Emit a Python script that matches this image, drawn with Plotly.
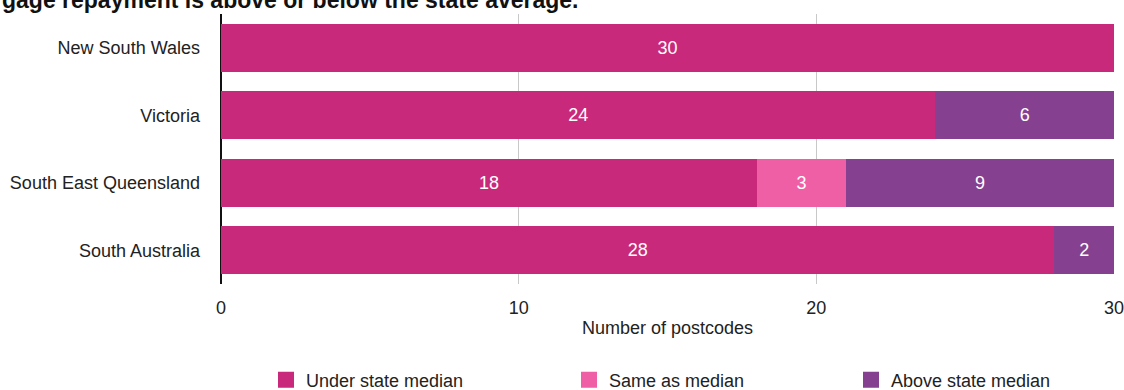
import plotly.graph_objects as go

# Postcodes per region, split by median mortgage repayment vs. state median
regions = ["New South Wales", "Victoria", "South East Queensland", "South Australia"]
under_median = [30, 24, 18, 28]
same_median = [0, 0, 3, 0]
above_median = [0, 6, 9, 2]

series_names = ["Under state median", "Same as median", "Above state median"]
series_values = [under_median, same_median, above_median]
series_colors = ["#C9297A", "#EF5FA5", "#85418F"]

x_ticks = [0, 10, 20, 30]

FONT = "Liberation Sans, Arial, Helvetica, sans-serif"
W, H = 1124, 390
ML, MR, MT, MB = 221, 10, 14, 106
PW, PH = W - ML - MR, H - MT - MB


def px_to_paper_x(px):
    return (px - ML) / PW


def px_to_paper_y(py):
    return (H - MB - py) / PH


fig = go.Figure()

for name, vals, color in zip(series_names, series_values, series_colors):
    fig.add_trace(go.Bar(
        y=regions,
        x=vals,
        name=name,
        orientation="h",
        marker=dict(color=color, line=dict(width=0)),
        text=[str(v) if v else "" for v in vals],
        textposition="inside",
        insidetextanchor="middle",
        textangle=0,
        textfont=dict(color="white", size=18, family=FONT),
        showlegend=False,
        hoverinfo="x+y+name",
    ))

# Legend entries with square swatches, each placed in its own legend box
legend_ids = ["legend", "legend2", "legend3"]
legend_left_px = [266, 569, 851]
for name, color, lid in zip(series_names, series_colors, legend_ids):
    fig.add_trace(go.Scatter(
        x=[None], y=[None],
        mode="markers",
        name=name,
        marker=dict(symbol="square", size=16, color=color, line=dict(width=0)),
        legend=lid,
        showlegend=True,
        hoverinfo="skip",
    ))

legend_common = dict(
    orientation="h",
    xref="container",
    yref="container",
    xanchor="left",
    yanchor="middle",
    y=(H - 380) / H,
    font=dict(size=18, family=FONT, color="#222222"),
    bgcolor="rgba(0,0,0,0)",
    borderwidth=0,
    itemsizing="trace",
)

fig.update_layout(
    width=W,
    height=H,
    margin=dict(l=ML, r=MR, t=MT, b=MB, pad=0, autoexpand=False),
    paper_bgcolor="white",
    plot_bgcolor="white",
    barmode="stack",
    bargap=0.29,
    font=dict(family=FONT, size=18, color="#222222"),
    xaxis=dict(
        range=[0, 30],
        tickvals=x_ticks,
        ticktext=[str(t) for t in x_ticks],
        showgrid=True,
        gridcolor="#c8c8c8",
        gridwidth=1,
        zeroline=True,
        zerolinecolor="#111111",
        zerolinewidth=2,
        showline=False,
        ticks="",
        automargin=False,
        ticklabeloverflow="allow",
        ticklabelstandoff=11,
        tickfont=dict(size=18, family=FONT, color="#222222"),
        title=dict(text="Number of postcodes", standoff=4,
                   font=dict(size=18, family=FONT, color="#222222")),
        fixedrange=True,
    ),
    yaxis=dict(
        categoryorder="array",
        categoryarray=regions[::-1],
        showgrid=False,
        zeroline=False,
        showline=False,
        ticks="",
        automargin=False,
        ticklabelstandoff=20,
        tickfont=dict(size=18, family=FONT, color="#222222"),
        fixedrange=True,
    ),
    legend=dict(x=(legend_left_px[0]) / W, **legend_common),
    legend2=dict(x=(legend_left_px[1]) / W, **legend_common),
    legend3=dict(x=(legend_left_px[2]) / W, **legend_common),
    annotations=[dict(
        text="<b>gage repayment is above or below the state average.</b>",
        xref="paper", yref="paper",
        x=px_to_paper_x(0), y=px_to_paper_y(15),
        xanchor="left", yanchor="bottom",
        showarrow=False,
        font=dict(size=23, family=FONT, color="#111111"),
    )],
)

fig.write_html("out.html")
